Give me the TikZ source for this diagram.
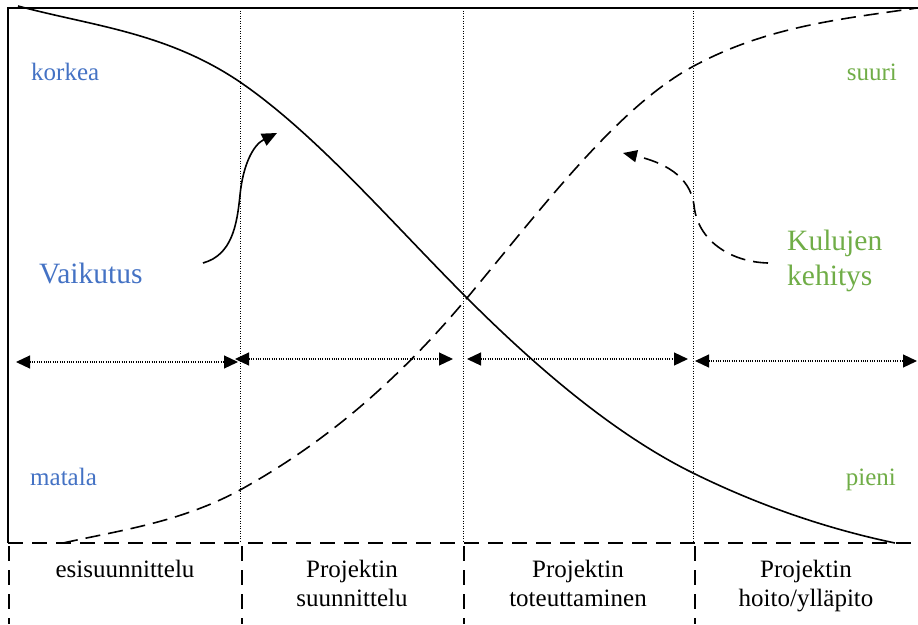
\documentclass[tikz,border=0pt]{standalone}
\usepackage{fontspec}
\setmainfont{Liberation Serif}
\usetikzlibrary{arrows.meta}
\definecolor{vblue}{RGB}{68,114,196}
\definecolor{kgreen}{RGB}{112,173,71}
\begin{document}
\begin{tikzpicture}[x=1pt,y=-1pt,
  frame/.style={line width=1.4pt},
  curveS/.style={line width=1.6pt},
  curveD/.style={line width=1.6pt, dash pattern=on 15pt off 8pt},
  boxdash/.style={line width=1.5pt, dash pattern=on 15pt off 9pt},
  divider/.style={line width=1pt, dash pattern=on 1pt off 1.5pt},
  span/.style={line width=1.2pt, dash pattern=on 1pt off 1.3pt, {Triangle[length=14pt,width=13pt]}-{Triangle[length=14pt,width=13pt]}},
  small/.style={font=\fontsize{25}{29}\selectfont, inner sep=0pt},
  big/.style={font=\fontsize{29.5}{35}\selectfont, inner sep=0pt},
  phase/.style={font=\fontsize{25}{29}\selectfont, inner sep=0pt, align=center, anchor=base},
]
\useasboundingbox (0,0) rectangle (918,624);

% frame
\coordinate (tl) at (8,8);
\coordinate (tr) at (918,8);
\coordinate (bl) at (8,543);
\coordinate (br) at (918,543);
\draw[frame] (tr) -- (tl) -- (bl);
\draw[boxdash] (bl) -- (br);

% dotted phase dividers
\foreach \x/\n in {240/a,463/b,693/c}{
  \coordinate (d\n t) at (\x,8);
  \coordinate (d\n b) at (\x,543);
  \draw[divider] (d\n t) -- (d\n b);
}

% dashed box dividers
\foreach \x/\n in {9/0,242/1,464/2,695/3}{
  \coordinate (e\n t) at (\x,546);
  \coordinate (e\n b) at (\x,624);
  \draw[boxdash] (e\n t) -- (e\n b);
}

% curves
\draw[curveS] (18,6) .. controls (92,26) and (166,32) .. (240,82)
  .. controls (316,134) and (391,222) .. (467,298)
  .. controls (542,373) and (618,436) .. (693,473)
  .. controls (760,506) and (828,529) .. (895,543);
\draw[curveD] (63,543) .. controls (122,530) and (181,522) .. (240,490)
  .. controls (316,448) and (391,389) .. (467,298)
  .. controls (542,208) and (617,108) .. (692,67)
  .. controls (767,26) and (842,19) .. (917,8);

% span arrows
\coordinate (s1l) at (16,362);  \coordinate (s1r) at (238,362);
\coordinate (s2l) at (235,359); \coordinate (s2r) at (453,359);
\coordinate (s3l) at (467,359); \coordinate (s3r) at (688,359);
\coordinate (s4l) at (695,361); \coordinate (s4r) at (917,361);
\draw[span] (s1l) -- (s1r);
\draw[span] (s2l) -- (s2r);
\draw[span] (s3l) -- (s3r);
\draw[span] (s4l) -- (s4r);

% labels
\node[small, text=vblue, anchor=base west] (korkea) at (31,80) {korkea};
\node[small, text=vblue, anchor=base west] (matala) at (30,485) {matala};
\node[small, text=kgreen, anchor=base east] (suuri) at (897,80) {suuri};
\node[small, text=kgreen, anchor=base east] (pieni) at (896,485) {pieni};
\node[big, text=vblue, anchor=base west] (vaikutus) at (39,283) {Vaikutus};
\node[big, text=kgreen, anchor=base west, align=left] (kulujen) at (787,285) {Kulujen\\kehitys};

% curved pointers
\coordinate (vstart) at (203,263);
\coordinate (vend) at (277,133);
\draw[curveS, -{Triangle[length=15pt,width=13pt]}] (vstart) .. controls (232,255) and (237,225) .. (240,195) .. controls (243,165) and (253,145) .. (vend);
\coordinate (kstart) at (768,263);
\coordinate (kend) at (623,153);
\draw[curveD, -{Triangle[length=14pt,width=12pt]}] (kstart) .. controls (730,262) and (697,240) .. (694,205) .. controls (690,175) and (662,162) .. (kend);

% phase labels
\node[phase] (p1) at (125,577) {esisuunnittelu};
\node[phase] (p2) at (352,606) {Projektin\\suunnittelu};
\node[phase] (p3) at (578,606) {Projektin\\toteuttaminen};
\node[phase] (p4) at (806,606) {Projektin\\hoito/ylläpito};
\end{tikzpicture}
\end{document}
